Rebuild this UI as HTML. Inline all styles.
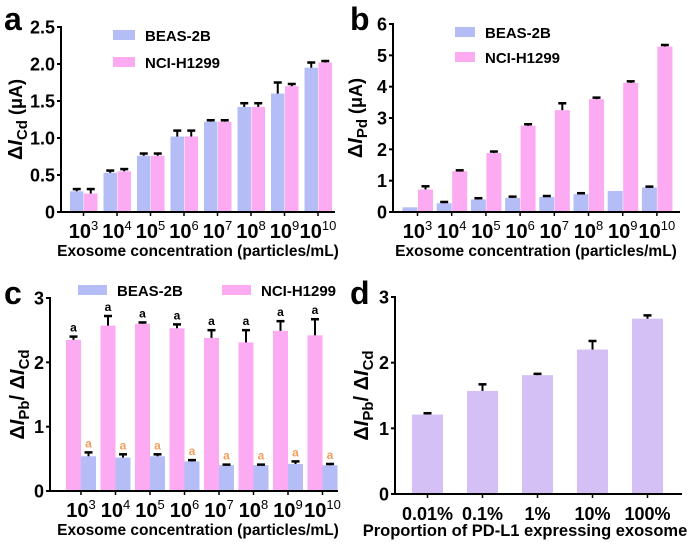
<!DOCTYPE html>
<html><head><meta charset="utf-8"><style>
html,body{margin:0;padding:0;background:#fff;}
svg{display:block;font-family:"Liberation Sans",Arial,sans-serif;font-weight:bold;}
</style></head><body>
<svg id="fig" width="700" height="546" viewBox="0 0 700 546" xmlns="http://www.w3.org/2000/svg"></svg>
<script>
const concLabels = ["3","4","5","6","7","8","9","10"];
const aBeas = [0.28,0.53,0.76,1.02,1.22,1.42,1.60,1.95];
const aBeasErr = [0.03,0.03,0.03,0.08,0.02,0.05,0.15,0.07];
const aNci = [0.25,0.55,0.76,1.02,1.22,1.42,1.70,2.02];
const aNciErr = [0.06,0.03,0.03,0.08,0.02,0.05,0.03,0.02];
const aTicks = ["0","0.5","1.0","1.5","2.0","2.5"];
const bBeas = [0.15,0.28,0.40,0.45,0.48,0.57,0.67,0.78];
const bBeasErr = [0,0.04,0.04,0.04,0.03,0.03,0,0.03];
const bNci = [0.72,1.30,1.88,2.75,3.25,3.60,4.12,5.28];
const bNciErr = [0.10,0.03,0.05,0.05,0.22,0.05,0.05,0.05];
const bTicks = ["0","1","2","3","4","5","6"];
const cNci = [2.35,2.57,2.60,2.53,2.38,2.31,2.49,2.42];
const cNciErr = [0.05,0.15,0.02,0.06,0.12,0.19,0.15,0.25];
const cBeas = [0.54,0.52,0.54,0.46,0.40,0.40,0.42,0.40];
const cBeasErr = [0.06,0.05,0.03,0.02,0.01,0.01,0.04,0.02];
const cTicks = ["0","1","2","3"];
const dCats = ["0.01%","0.1%","1%","10%","100%"];
const dVals = [1.21,1.57,1.81,2.20,2.67];
const dErr = [0.02,0.10,0.02,0.13,0.05];
const dTicks = ["0","1","2","3"];

const NS="http://www.w3.org/2000/svg";
const svg=document.getElementById('fig');
const BLUE="#b4bdf6", PINK="#fcaaf1", LAV="#d5c0f6";
function mk(tag,attrs,parent){const e=document.createElementNS(NS,tag);for(const k in attrs)e.setAttribute(k,attrs[k]);(parent||svg).appendChild(e);return e;}

function panel(o){
  const g=mk('g',{});
  
  
  const ymax=parseFloat(o.ticks[o.ticks.length-1]);
  const y=v=>o.y0-(v/ymax)*(o.y0-o.yTop);
  o.series.forEach((s)=>{
    s.vals.forEach((v,i)=>{
      const cx=o.c0+i*o.step;
      const x=cx+s.off;
      const r=mk('rect',{x:x,y:y(v),width:o.bw,height:o.y0-y(v),fill:s.color},g);
      
      
      const e=s.err[i];
      if(e>0){
        const xm=x+o.bw/2;
        const l=mk('line',{x1:xm,x2:xm,y1:y(v),y2:y(v+e),stroke:'#000','stroke-width':2},g);
        
        
        mk('line',{x1:xm-4,x2:xm+4,y1:y(v+e),y2:y(v+e),stroke:'#000','stroke-width':2.5},g);
      }
      if(s.sig){
        const t=mk('text',{x:x+o.bw/2,y:y(v+e)-5,'text-anchor':'middle','font-size':12,fill:s.sigColor},g);
        t.textContent='a';
        
        
      }
    });
  });
  const ya=mk('line',{x1:o.ax,x2:o.ax,y1:o.yTop-1,y2:o.y0+1,stroke:'#000','stroke-width':2},g);
  
  const xa=mk('line',{x1:o.ax-1,x2:o.axEnd,y1:o.y0,y2:o.y0,stroke:'#000','stroke-width':2},g);
  
  o.ticks.forEach(t=>{
    const v=parseFloat(t),yy=y(v);
    mk('line',{x1:o.ax-4,x2:o.ax,y1:yy,y2:yy,stroke:'#000','stroke-width':2},g);
    const tx=mk('text',{x:o.ax-6,y:yy+6.5,'text-anchor':'end','font-size':18},g);
    tx.textContent=t;
    
    
  });
  o.cats.forEach((c,i)=>{
    const cx=o.c0+i*o.step+o.catOff;
    mk('line',{x1:cx,x2:cx,y1:o.y0,y2:o.y0+4,stroke:'#000','stroke-width':1.5},g);
    const tx=mk('text',{x:cx,y:o.y0+26,'text-anchor':'middle','font-size':o.catPow?20:18},g);
    if(o.catPow){tx.textContent='10';const ts=mk('tspan',{dy:-8,'font-size':13,'font-weight':'normal'},tx);ts.textContent=c;}
    else tx.textContent=c;
    
    
  });
  const xl=mk('text',{x:o.xlX,y:o.xlY,'text-anchor':'middle','font-size':o.xlSize},g);
  xl.textContent=o.xlabel;
  
  const yl=mk('text',{transform:`translate(${o.ylX},${(o.y0+o.yTop)/2}) rotate(-90)`,'text-anchor':'middle','font-size':20},g);
  
  o.ylabel(yl);
  const lt=mk('text',{x:o.letter[1],y:o.letter[2],'font-size':32},g);
  lt.textContent=o.letter[0];
  
  (o.legend||[]).forEach(L=>{
    const r=mk('rect',{x:L.x,y:L.y-5,width:L.w,height:10,fill:L.color},g);
    
    const t=mk('text',{x:L.x+L.w+10,y:L.y+6,'font-size':15},g);
    t.textContent=L.text;
    
  });
}
function sp(p,txt,a){const t=mk('tspan',a||{},p);t.textContent=txt;return t;}
function ylab(sub1,sub2,unit){return el=>{
  sp(el,'Δ');sp(el,'I',{'font-style':'italic'});sp(el,sub1,{'font-size':15,dy:5});
  if(sub2){sp(el,'/ Δ',{dy:-5});sp(el,'I',{'font-style':'italic'});sp(el,sub2,{'font-size':15,dy:5});}
  else sp(el,' '+unit,{dy:-5,'font-size':18});
};}

panel({name:'panel-a',ax:61,axEnd:335,y0:212,yTop:27,c0:83.5,step:33.5,bw:13.5,catOff:0,ticks:aTicks,cats:concLabels,catPow:true,
  series:[{key:'beas-2b',vals:aBeas,err:aBeasErr,color:BLUE,off:-13.5},{key:'nci-h1299',vals:aNci,err:aNciErr,color:PINK,off:0.5}],
  xlabel:'Exosome concentration (particles/mL)',xlX:198,xlY:256,xlSize:15.5,ylX:22,ylabel:ylab('Cd',null,'(μA)'),letter:['a',4,30],
  legend:[{x:113,y:35,w:22,color:BLUE,text:'BEAS-2B'},{x:113,y:62,w:22,color:PINK,text:'NCI-H1299'}]});
panel({name:'panel-b',ax:393,axEnd:680,y0:212,yTop:24,c0:417.5,step:34.2,bw:15,catOff:0,ticks:bTicks,cats:concLabels,catPow:true,
  series:[{key:'beas-2b',vals:bBeas,err:bBeasErr,color:BLUE,off:-15},{key:'nci-h1299',vals:bNci,err:bNciErr,color:PINK,off:0.5}],
  xlabel:'Exosome concentration (particles/mL)',xlX:536,xlY:256,xlSize:15.5,ylX:362,ylabel:ylab('Pd',null,'(μA)'),letter:['b',350,30],
  legend:[{x:455,y:32,w:20,color:BLUE,text:'BEAS-2B'},{x:455,y:57,w:20,color:PINK,text:'NCI-H1299'}]});
panel({name:'panel-c',ax:50,axEnd:338,y0:491,yTop:298,c0:81,step:34.5,bw:15,catOff:0,ticks:cTicks,cats:concLabels,catPow:true,
  series:[{key:'nci-h1299',vals:cNci,err:cNciErr,color:PINK,off:-15,sig:true,sigColor:'#000'},{key:'beas-2b',vals:cBeas,err:cBeasErr,color:BLUE,off:0,sig:true,sigColor:'#f0a060'}],
  xlabel:'Exosome concentration (particles/mL)',xlX:198,xlY:535,xlSize:15.5,ylX:24,ylabel:ylab('Pb','Cd'),letter:['c',4,304],
  legend:[{x:78,y:290,w:29,color:BLUE,text:'BEAS-2B'},{x:222,y:290,w:29,color:PINK,text:'NCI-H1299'}]});
panel({name:'panel-d',ax:395,axEnd:682,y0:494,yTop:297,c0:412,step:55,bw:31,catOff:15.5,ticks:dTicks,cats:dCats,catPow:false,
  series:[{key:'pd-l1-ratio',vals:dVals,err:dErr,color:LAV,off:0}],
  xlabel:'Proportion of PD-L1 expressing exosome',xlX:525,xlY:536,xlSize:16.5,ylX:368,ylabel:ylab('Pb','Cd'),letter:['d',350,304]});
</script>
</body></html>
